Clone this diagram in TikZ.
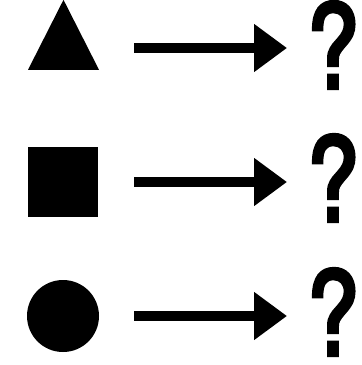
\documentclass[tikz,border=0pt]{standalone}
\usepackage{fontspec}
\setmainfont{TeX Gyre Heros}
\newfontfamily\qfont[FakeBold=3.8]{TeX Gyre Heros}
\usetikzlibrary{arrows.meta,shapes.geometric}
\begin{document}
\begin{tikzpicture}[x=1pt,y=-1pt,
  shapebox/.style={fill=black,draw=none,inner sep=0pt,outer sep=0pt},
  arr/.style={line width=10pt,-{Triangle[length=33pt,width=46pt]}},
  qmark/.style={inner sep=0pt,anchor=base,font=\fontsize{116}{116}\qfont,xscale=0.8}]
\useasboundingbox (0,0) rectangle (362,365);
% shapes
\node[shapebox,isosceles triangle,isosceles triangle stretches,shape border rotate=90,
      minimum height=70pt,minimum width=71pt] (tri) at (63.5,48) {};
\node[shapebox,rectangle,minimum width=70pt,minimum height=70pt] (sq) at (63,182) {};
\node[shapebox,circle,minimum size=72pt] (ci) at (63,316) {};
% question marks
\node[qmark] (q1) at (333,88) {?};
\node[qmark] (q2) at (333,221) {?};
\node[qmark] (q3) at (333,355) {?};
% arrows
\coordinate (a1s) at (134,48); \coordinate (a1e) at (287,48);
\coordinate (a2s) at (134,182); \coordinate (a2e) at (287,182);
\coordinate (a3s) at (134,316); \coordinate (a3e) at (287,316);
\draw[arr] (a1s) -- (a1e);
\draw[arr] (a2s) -- (a2e);
\draw[arr] (a3s) -- (a3e);
\end{tikzpicture}
\end{document}
